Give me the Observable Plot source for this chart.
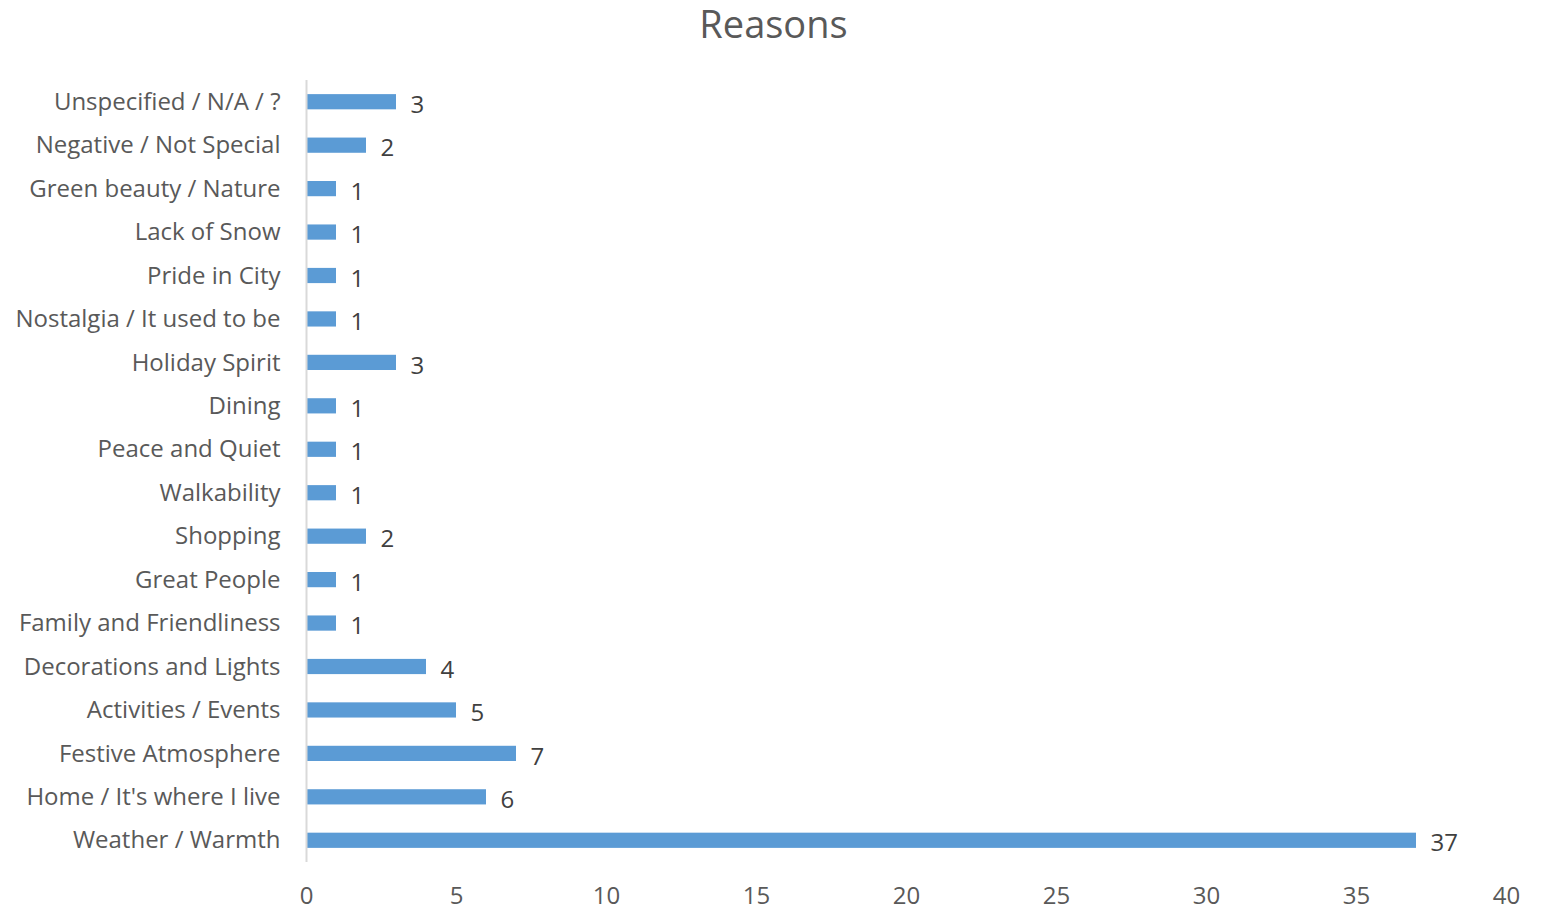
<!DOCTYPE html>
<html>
<head>
<meta charset="utf-8">
<script src="https://cdn.jsdelivr.net/npm/d3@7"></script>
<script src="https://cdn.jsdelivr.net/npm/@observablehq/plot@0.6"></script>
<style>
  body { margin: 0; background: #fff; font-family: "Open Sans", sans-serif; }
  #title { height: 48px; line-height: 46px; text-align: center; font-size: 38px; color: #595959; }
</style>
</head>
<body>
<div id="title">Reasons</div>
<div id="chart"></div>
<script>
const categories = [
  "Unspecified / N/A / ?",
  "Negative / Not Special",
  "Green beauty / Nature",
  "Lack of Snow",
  "Pride in City",
  "Nostalgia / It used to be",
  "Holiday Spirit",
  "Dining",
  "Peace and Quiet",
  "Walkability",
  "Shopping",
  "Great People",
  "Family and Friendliness",
  "Decorations and Lights",
  "Activities / Events",
  "Festive Atmosphere",
  "Home / It's where I live",
  "Weather / Warmth"
];
const counts = [3, 2, 1, 1, 1, 1, 3, 1, 1, 1, 2, 1, 1, 4, 5, 7, 6, 37];
const xTicks = [0, 5, 10, 15, 20, 25, 30, 35, 40];

const data = categories.map((c, i) => ({category: c, count: counts[i]}));

const chart = Plot.plot({
  width: 1547,
  height: 860,
  marginTop: 32,
  marginBottom: 46,
  marginLeft: 306,
  marginRight: 41,
  style: {fontFamily: "Open Sans, sans-serif", fontSize: "24px", color: "#595959", background: "#fff", overflow: "visible"},
  x: {domain: [0, 40], ticks: xTicks, label: null},
  y: {domain: categories, paddingInner: 0.65, paddingOuter: 0.325, round: false, label: null},
  marks: [
    Plot.barX(data, {x: "count", y: "category", fill: "#5B9BD5"}),
    Plot.ruleX([0], {stroke: "#d9d9d9", strokeWidth: 2}),
    Plot.text(data, {x: "count", y: "category", text: d => String(d.count), textAnchor: "start", dx: 14, dy: 3, fill: "#404040", fontSize: 24}),
    Plot.axisX({ticks: xTicks, tickSize: 0, tickPadding: 24, fontSize: 24, fill: "#595959", label: null}),
    Plot.axisY({tickSize: 0, tickPadding: 26, fontSize: 24, fill: "#595959", label: null})
  ]
});
document.getElementById("chart").appendChild(chart);
</script>
</body>
</html>
